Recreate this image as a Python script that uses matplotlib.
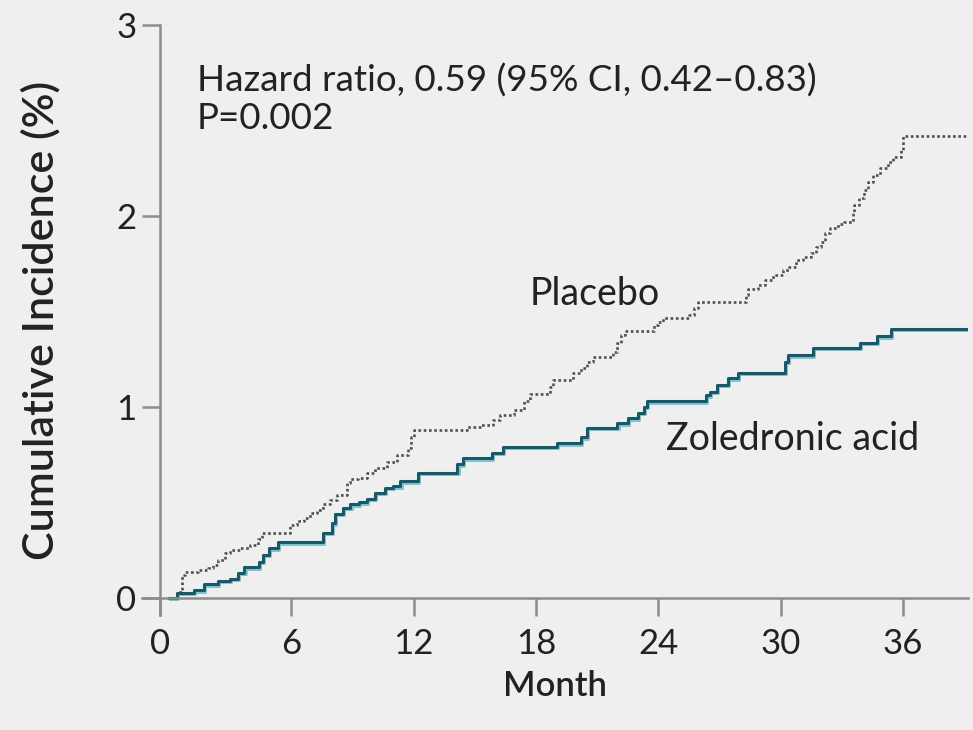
import matplotlib
matplotlib.use("Agg")
import matplotlib.pyplot as plt
import matplotlib.patheffects as pe

plt.rcParams['font.family'] = ['Lato', 'DejaVu Sans']

# cumulative incidence (%) by month, step curves
zol_month = [0, 0.4, 1.2, 1.7, 2.4, 3.0, 3.4, 3.7, 4.4, 4.6, 4.9, 5.35, 7.55, 8.0, 8.15,
             8.55, 8.9, 9.3, 9.7, 10.1, 10.6, 11.0, 11.35, 12.2, 14.15, 14.4, 15.85, 16.4,
             19.05, 20.2, 20.5, 22.0, 22.5, 23.0, 23.3, 23.45, 26.35, 26.55, 26.9, 27.4,
             27.9, 30.2, 30.35, 31.6, 33.9, 34.75, 35.4, 39.1]
zol_inc = [0, 0.025, 0.04, 0.07, 0.09, 0.10, 0.13, 0.16, 0.19, 0.225, 0.26, 0.29, 0.34, 0.39,
           0.44, 0.47, 0.49, 0.50, 0.52, 0.55, 0.575, 0.585, 0.61, 0.655, 0.70, 0.73, 0.76,
           0.79, 0.81, 0.84, 0.89, 0.915, 0.94, 0.97, 1.0, 1.03, 1.06, 1.08, 1.115, 1.15,
           1.18, 1.235, 1.27, 1.31, 1.335, 1.37, 1.41, 1.41]

pla_month = [0, 0.4, 0.65, 0.8, 1.4, 1.9, 2.15, 2.4, 2.75, 3.0, 3.5, 3.95, 4.35, 4.55, 5.95,
             6.3, 6.6, 6.9, 7.25, 7.55, 7.9, 8.25, 8.75, 8.9, 9.25, 9.7, 10.1, 10.7, 11.2,
             11.7, 11.85, 12.0, 14.6, 15.3, 15.9, 16.25, 16.9, 17.4, 17.7, 18.7, 18.85, 19.8,
             20.2, 20.5, 20.8, 21.8, 22.0, 22.15, 22.35, 23.8, 24.0, 24.25, 25.5, 25.75, 25.95,
             28.3, 28.4, 28.9, 29.25, 29.65, 30.1, 30.4, 30.75, 31.1, 31.5, 31.75, 32.0, 32.2,
             32.45, 32.8, 33.1, 33.55, 33.6, 33.85, 34.1, 34.3, 34.55, 34.9, 35.25, 35.5, 35.9,
             36.0, 39.2]
pla_inc = [0, 0.03, 0.12, 0.135, 0.145, 0.155, 0.17, 0.20, 0.235, 0.25, 0.26, 0.275, 0.31,
           0.34, 0.38, 0.40, 0.42, 0.445, 0.46, 0.49, 0.51, 0.54, 0.60, 0.62, 0.63, 0.655,
           0.68, 0.71, 0.75, 0.785, 0.84, 0.88, 0.895, 0.905, 0.93, 0.96, 0.985, 1.03, 1.07,
           1.105, 1.14, 1.18, 1.205, 1.235, 1.26, 1.29, 1.335, 1.375, 1.40, 1.43, 1.445, 1.465,
           1.48, 1.52, 1.55, 1.585, 1.62, 1.64, 1.665, 1.69, 1.715, 1.735, 1.77, 1.785, 1.805,
           1.84, 1.865, 1.91, 1.935, 1.96, 1.97, 2.015, 2.06, 2.095, 2.135, 2.18, 2.215, 2.25,
           2.285, 2.31, 2.345, 2.42, 2.42]

x_ticks = [0, 6, 12, 18, 24, 30, 36]
y_ticks = [0, 1, 2, 3]

bg = '#efefef'
axis_col = '#8c8c8c'
text_col = '#222222'

fig = plt.figure(figsize=(9.73, 7.3), dpi=100, facecolor=bg)
ax = fig.add_axes([0.1459, 0.1575, 0.849, 0.8082])
ax.set_facecolor(bg)

ax.step(pla_month, pla_inc, where='post', color='#505050', lw=1.9,
        linestyle=(0, (1.0, 1.0)))
ax.step(zol_month, zol_inc, where='post', color='#1d5664', lw=2.2,
        path_effects=[pe.SimpleLineShadow(offset=(0.8, -1.0), shadow_color='#6cc3d3', alpha=0.9),
                      pe.Normal()])

spine_x = -0.44
ax.set_xlim(-1.33, 39.2)
ax.set_ylim(-0.09, 3.0)
for s in ['top', 'right']:
    ax.spines[s].set_visible(False)
ax.spines['left'].set_position(('data', spine_x))
ax.spines['bottom'].set_position(('data', 0))
for s in ['left', 'bottom']:
    ax.spines[s].set_color(axis_col)
    ax.spines[s].set_linewidth(1.8)

# the 0 label sits under the vertical axis line
ax.set_xticks([spine_x] + x_ticks[1:])
ax.set_xticklabels([str(v) for v in x_ticks])
ax.set_yticks(y_ticks)
ax.set_yticklabels([str(v) for v in y_ticks])
ax.tick_params(axis='both', direction='out', length=13, width=1.8, color=axis_col,
               labelsize=25, labelcolor=text_col)
ax.tick_params(axis='x', pad=9)
ax.tick_params(axis='y', pad=4)

ax.set_xlabel('Month', fontsize=25, fontweight='semibold', color=text_col, labelpad=7)
ax.set_ylabel('Cumulative Incidence (%)', fontsize=31, fontweight='semibold',
              color=text_col, labelpad=40)

ax.text(1.35, 2.61, 'Hazard ratio, 0.59 (95% CI, 0.42\u20130.83)\nP=0.002',
        fontsize=26.5, color=text_col, va='center', ha='left', linespacing=1.15)
ax.text(17.7, 1.59, 'Placebo', fontsize=27, color=text_col, va='center', ha='left')
ax.text(24.4, 0.83, 'Zoledronic acid', fontsize=27, color=text_col, va='center', ha='left')

fig.savefig('out.png', dpi=100, facecolor=bg)
